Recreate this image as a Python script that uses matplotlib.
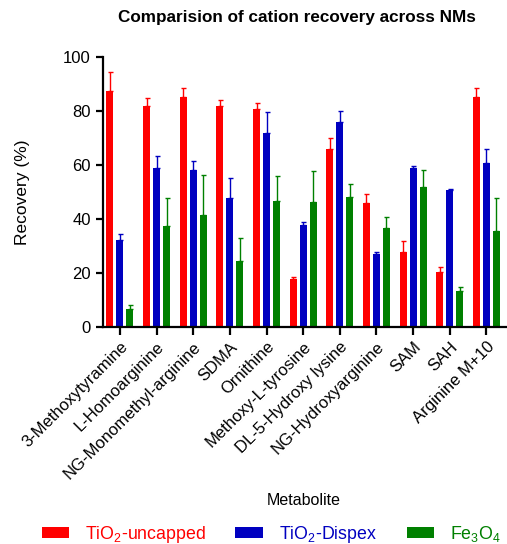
import numpy as np
import matplotlib
matplotlib.use("Agg")
import matplotlib.pyplot as plt

plt.rcParams['font.family'] = ['Liberation Sans', 'DejaVu Sans']
plt.rcParams['mathtext.default'] = 'regular'

# Metabolites on the x axis
metabolites = ["3-Methoxytyramine", "L-Homoarginine", "NG-Monomethyl-arginine", "SDMA",
               "Ornithine", "Methoxy-L-tyrosine", "DL-5-Hydroxy lysine", "NG-Hydroxyarginine",
               "SAM", "SAH", "Arginine M+10"]

# Mean recovery (%) and upper error (SD)
tio2_uncapped = [87.6, 81.8, 85.1, 81.8, 80.8, 17.6, 66.1, 45.8, 27.6, 20.4, 85.4]
tio2_uncapped_err = [7.0, 2.9, 3.4, 2.4, 2.1, 1.0, 4.1, 3.6, 4.1, 1.6, 3.1]

tio2_dispex = [32.2, 58.9, 58.2, 47.8, 71.8, 37.7, 75.9, 26.9, 58.8, 50.7, 60.9]
tio2_dispex_err = [2.3, 4.6, 3.2, 7.5, 8.0, 1.3, 4.2, 0.7, 0.7, 0.4, 5.2]

fe3o4 = [6.4, 37.3, 41.6, 24.5, 46.5, 46.3, 48.0, 36.8, 51.9, 13.2, 35.6]
fe3o4_err = [1.6, 10.5, 14.7, 8.5, 9.4, 11.5, 5.0, 3.9, 6.3, 1.5, 12.0]

series = [("TiO$_2$-uncapped", tio2_uncapped, tio2_uncapped_err, "#FF0000"),
          ("TiO$_2$-Dispex", tio2_dispex, tio2_dispex_err, "#0000C0"),
          ("Fe$_3$O$_4$", fe3o4, fe3o4_err, "#008000")]

fig = plt.figure(figsize=(5.07, 5.44), dpi=100)
ax = fig.add_axes([0.2026, 0.3995, 0.795, 0.4952])

x = np.arange(len(metabolites))
offsets = [-0.273, 0.0, 0.273]
width = 0.19

for (label, vals, errs, col), off in zip(series, offsets):
    ax.bar(x + off, vals, width, color=col, label=label,
           yerr=[np.zeros(len(errs)), errs], capsize=1.8,
           error_kw=dict(ecolor=col, elinewidth=1, capthick=1))

ax.set_xlim(-0.47, 10.53)
ax.set_ylim(0, 100)
ax.set_yticks([0, 20, 40, 60, 80, 100])
ax.set_xticks(x)
ax.set_xticklabels(metabolites, rotation=45, ha='right', rotation_mode='anchor', fontsize=10.5)

for s in ['top', 'right']:
    ax.spines[s].set_visible(False)
for s in ['left', 'bottom']:
    ax.spines[s].set_linewidth(1.6)
ax.tick_params(axis='both', width=1.6, length=5, labelsize=12)
ax.tick_params(axis='x', length=6, pad=3)

ax.set_ylabel("Recovery (%)", fontsize=12.5, labelpad=24)
fig.text(0.585, 0.967, "Comparision of cation recovery across NMs", ha='center', va='center',
         fontsize=12.3, fontweight='bold')
fig.text(0.6, 0.08, "Metabolite", ha='center', va='center', fontsize=11.5)

leg = fig.legend(loc='center', bbox_to_anchor=(0.535, 0.018), ncol=3, frameon=False,
                 fontsize=12.8, handlelength=1.55, handleheight=0.55,
                 handletextpad=0.9, columnspacing=1.65)
for t, (_, _, _, col) in zip(leg.get_texts(), series):
    t.set_color(col)

fig.savefig("out.png", dpi=100)
